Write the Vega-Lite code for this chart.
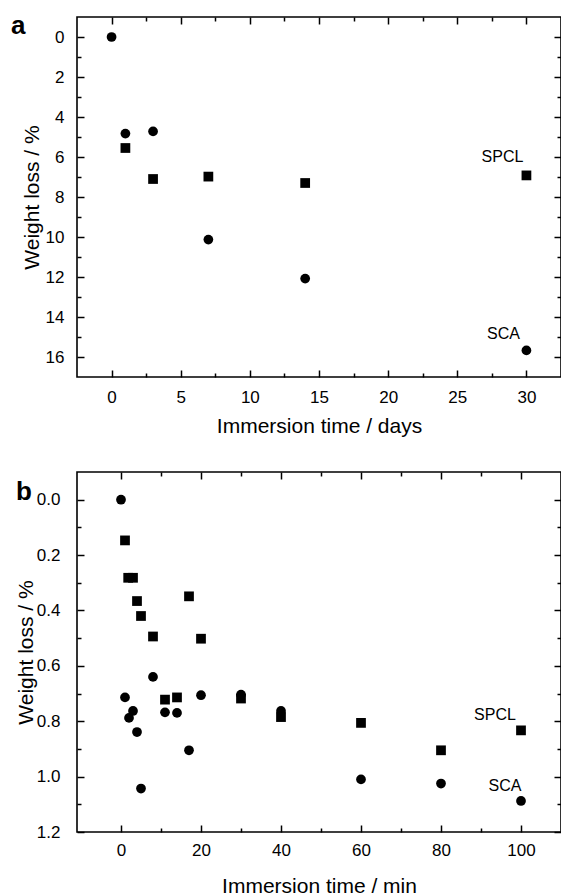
{
  "$schema": "https://vega.github.io/schema/vega-lite/v6.json",
  "background": "white",
  "padding": {"left": 10, "top": 12, "right": 0, "bottom": 0},
  "config": {
    "font": "Liberation Sans",
    "view": {"stroke": "black", "strokeWidth": 1.6},
    "axis": {
      "domain": false, "grid": false, "zindex": 1,
      "labelFont": "Liberation Sans", "labelFontSize": 17, "labelColor": "black",
      "titleFont": "Liberation Sans", "titleFontSize": 21, "titleFontWeight": "normal", "titleColor": "black"
    },
    "title": {"font": "Liberation Sans", "color": "black"}
  },
  "datasets": {
    "a": [
      {"s": "SPCL", "t": 1, "w": 5.55},
      {"s": "SPCL", "t": 3, "w": 7.1},
      {"s": "SPCL", "t": 7, "w": 6.98},
      {"s": "SPCL", "t": 14, "w": 7.3},
      {"s": "SPCL", "t": 30, "w": 6.92},
      {"s": "SCA", "t": 0, "w": 0},
      {"s": "SCA", "t": 1, "w": 4.83},
      {"s": "SCA", "t": 3, "w": 4.72},
      {"s": "SCA", "t": 7, "w": 10.13},
      {"s": "SCA", "t": 14, "w": 12.08},
      {"s": "SCA", "t": 30, "w": 15.67}
    ],
    "b": [
      {"s": "SPCL", "t": 1, "w": 0.147},
      {"s": "SPCL", "t": 1.8, "w": 0.282},
      {"s": "SPCL", "t": 3, "w": 0.282},
      {"s": "SPCL", "t": 4, "w": 0.366},
      {"s": "SPCL", "t": 5, "w": 0.42},
      {"s": "SPCL", "t": 8, "w": 0.494},
      {"s": "SPCL", "t": 11, "w": 0.722},
      {"s": "SPCL", "t": 14, "w": 0.714},
      {"s": "SPCL", "t": 17, "w": 0.349},
      {"s": "SPCL", "t": 20, "w": 0.502},
      {"s": "SPCL", "t": 30, "w": 0.718},
      {"s": "SPCL", "t": 40, "w": 0.785},
      {"s": "SPCL", "t": 60, "w": 0.806},
      {"s": "SPCL", "t": 80, "w": 0.905},
      {"s": "SPCL", "t": 100, "w": 0.833},
      {"s": "SCA", "t": 0, "w": 0},
      {"s": "SCA", "t": 1, "w": 0.714},
      {"s": "SCA", "t": 2, "w": 0.788},
      {"s": "SCA", "t": 3, "w": 0.763},
      {"s": "SCA", "t": 4, "w": 0.839},
      {"s": "SCA", "t": 5, "w": 1.043},
      {"s": "SCA", "t": 8, "w": 0.64},
      {"s": "SCA", "t": 11, "w": 0.768},
      {"s": "SCA", "t": 14, "w": 0.77},
      {"s": "SCA", "t": 17, "w": 0.905},
      {"s": "SCA", "t": 20, "w": 0.706},
      {"s": "SCA", "t": 30, "w": 0.704},
      {"s": "SCA", "t": 40, "w": 0.763},
      {"s": "SCA", "t": 60, "w": 1.01},
      {"s": "SCA", "t": 80, "w": 1.025},
      {"s": "SCA", "t": 100, "w": 1.088}
    ]
  },
  "columns": 1,
  "spacing": 33,
  "concat": [
    {
      "width": 484,
      "height": 360,
      "title": {"text": "a", "fontSize": 26, "fontWeight": "bold", "anchor": "start", "frame": "group", "dx": -66, "dy": 23, "offset": 0},
      "data": {"name": "a"},
      "layer": [
        {
          "mark": {"type": "point", "filled": true, "opacity": 1, "color": "black", "size": 95},
          "encoding": {
            "x": {"field": "t", "type": "quantitative",
              "scale": {"domain": [-2.5, 32.5], "nice": false, "zero": false},
              "axis": {"orient": "bottom", "title": "Immersion time / days",
                "values": [0, 5, 10, 15, 20, 25, 30],
                "ticks": true, "tickColor": "black", "tickWidth": 1.5, "tickSize": 7, "offset": -7,
                "labelPadding": 12, "titlePadding": 10}},
            "y": {"field": "w", "type": "quantitative",
              "scale": {"domain": [-1, 17], "nice": false, "zero": false, "reverse": true},
              "axis": {"orient": "left", "title": "Weight loss / %",
                "values": [0, 2, 4, 6, 8, 10, 12, 14, 16],
                "ticks": true, "tickColor": "black", "tickWidth": 1.5, "tickSize": 7, "offset": -7,
                "labelPadding": 13, "titlePadding": 3}},
            "shape": {"field": "s", "type": "nominal", "scale": {"domain": ["SCA", "SPCL"], "range": ["circle", "square"]}, "legend": null}
          }
        },
        {
          "mark": {"type": "point", "opacity": 0},
          "encoding": {
            "x": {"field": "t", "type": "quantitative",
              "axis": {"orient": "top", "title": null, "labels": false, "values": [0, 5, 10, 15, 20, 25, 30],
                "ticks": true, "tickColor": "black", "tickWidth": 1.5, "tickSize": 7, "offset": -7}},
            "y": {"field": "w", "type": "quantitative",
              "axis": {"orient": "right", "title": null, "labels": false, "values": [0, 2, 4, 6, 8, 10, 12, 14, 16],
                "ticks": true, "tickColor": "black", "tickWidth": 1.5, "tickSize": 7, "offset": -7}}
          }
        },
        {
          "mark": {"type": "point", "opacity": 0},
          "encoding": {
            "x": {"field": "t", "type": "quantitative",
              "axis": {"orient": "bottom", "title": null, "labels": false, "values": [2.5, 7.5, 12.5, 17.5, 22.5, 27.5],
                "ticks": true, "tickColor": "black", "tickWidth": 1.5, "tickSize": 4, "offset": -4}},
            "y": {"field": "w", "type": "quantitative",
              "axis": {"orient": "left", "title": null, "labels": false, "values": [1, 3, 5, 7, 9, 11, 13, 15],
                "ticks": true, "tickColor": "black", "tickWidth": 1.5, "tickSize": 4, "offset": -4}}
          }
        },
        {
          "mark": {"type": "point", "opacity": 0},
          "encoding": {
            "x": {"field": "t", "type": "quantitative",
              "axis": {"orient": "top", "title": null, "labels": false, "values": [2.5, 7.5, 12.5, 17.5, 22.5, 27.5],
                "ticks": true, "tickColor": "black", "tickWidth": 1.5, "tickSize": 4, "offset": -4}},
            "y": {"field": "w", "type": "quantitative",
              "axis": {"orient": "right", "title": null, "labels": false, "values": [1, 3, 5, 7, 9, 11, 13, 15],
                "ticks": true, "tickColor": "black", "tickWidth": 1.5, "tickSize": 4, "offset": -4}}
          }
        },
        {
          "transform": [{"filter": "datum.s == 'SPCL' && datum.t == 30"}],
          "mark": {"type": "text", "fontSize": 16, "dx": -24, "dy": -18, "color": "black"},
          "encoding": {
            "x": {"field": "t", "type": "quantitative", "axis": null},
            "y": {"field": "w", "type": "quantitative", "axis": null},
            "text": {"field": "s"}
          }
        },
        {
          "transform": [{"filter": "datum.s == 'SCA' && datum.t == 30"}],
          "mark": {"type": "text", "fontSize": 16, "dx": -23, "dy": -16, "color": "black"},
          "encoding": {
            "x": {"field": "t", "type": "quantitative", "axis": null},
            "y": {"field": "w", "type": "quantitative", "axis": null},
            "text": {"field": "s"}
          }
        }
      ],
      "resolve": {"axis": {"x": "independent", "y": "independent"}}
    },
    {
      "width": 484,
      "height": 360,
      "title": {"text": "b", "fontSize": 26, "fontWeight": "bold", "anchor": "start", "frame": "group", "dx": -61, "dy": 34, "offset": 0},
      "data": {"name": "b"},
      "layer": [
        {
          "mark": {"type": "point", "filled": true, "opacity": 1, "color": "black", "size": 95},
          "encoding": {
            "x": {"field": "t", "type": "quantitative",
              "scale": {"domain": [-11, 110], "nice": false, "zero": false},
              "axis": {"orient": "bottom", "title": "Immersion time / min",
                "values": [0, 20, 40, 60, 80, 100],
                "ticks": true, "tickColor": "black", "tickWidth": 1.5, "tickSize": 7, "offset": -7,
                "labelPadding": 10, "titlePadding": 17}},
            "y": {"field": "w", "type": "quantitative",
              "scale": {"domain": [-0.1, 1.2], "nice": false, "zero": false, "reverse": true},
              "axis": {"orient": "left", "title": "Weight loss / %", "format": ".1f",
                "values": [0, 0.2, 0.4, 0.6, 0.8, 1.0, 1.2],
                "ticks": true, "tickColor": "black", "tickWidth": 1.5, "tickSize": 7, "offset": -7,
                "labelPadding": 17, "titlePadding": 0}},
            "shape": {"field": "s", "type": "nominal", "scale": {"domain": ["SCA", "SPCL"], "range": ["circle", "square"]}, "legend": null}
          }
        },
        {
          "mark": {"type": "point", "opacity": 0},
          "encoding": {
            "x": {"field": "t", "type": "quantitative",
              "axis": {"orient": "top", "title": null, "labels": false, "values": [0, 20, 40, 60, 80, 100],
                "ticks": true, "tickColor": "black", "tickWidth": 1.5, "tickSize": 7, "offset": -7}},
            "y": {"field": "w", "type": "quantitative",
              "axis": {"orient": "right", "title": null, "labels": false, "values": [0, 0.2, 0.4, 0.6, 0.8, 1.0, 1.2],
                "ticks": true, "tickColor": "black", "tickWidth": 1.5, "tickSize": 7, "offset": -7}}
          }
        },
        {
          "mark": {"type": "point", "opacity": 0},
          "encoding": {
            "x": {"field": "t", "type": "quantitative",
              "axis": {"orient": "bottom", "title": null, "labels": false, "values": [10, 30, 50, 70, 90],
                "ticks": true, "tickColor": "black", "tickWidth": 1.5, "tickSize": 4, "offset": -4}},
            "y": {"field": "w", "type": "quantitative",
              "axis": {"orient": "left", "title": null, "labels": false, "values": [0.1, 0.3, 0.5, 0.7, 0.9, 1.1],
                "ticks": true, "tickColor": "black", "tickWidth": 1.5, "tickSize": 4, "offset": -4}}
          }
        },
        {
          "mark": {"type": "point", "opacity": 0},
          "encoding": {
            "x": {"field": "t", "type": "quantitative",
              "axis": {"orient": "top", "title": null, "labels": false, "values": [10, 30, 50, 70, 90],
                "ticks": true, "tickColor": "black", "tickWidth": 1.5, "tickSize": 4, "offset": -4}},
            "y": {"field": "w", "type": "quantitative",
              "axis": {"orient": "right", "title": null, "labels": false, "values": [0.1, 0.3, 0.5, 0.7, 0.9, 1.1],
                "ticks": true, "tickColor": "black", "tickWidth": 1.5, "tickSize": 4, "offset": -4}}
          }
        },
        {
          "transform": [{"filter": "datum.s == 'SPCL' && datum.t == 100"}],
          "mark": {"type": "text", "fontSize": 16, "dx": -26, "dy": -15, "color": "black"},
          "encoding": {
            "x": {"field": "t", "type": "quantitative", "axis": null},
            "y": {"field": "w", "type": "quantitative", "axis": null},
            "text": {"field": "s"}
          }
        },
        {
          "transform": [{"filter": "datum.s == 'SCA' && datum.t == 100"}],
          "mark": {"type": "text", "fontSize": 16, "dx": -16, "dy": -15, "color": "black"},
          "encoding": {
            "x": {"field": "t", "type": "quantitative", "axis": null},
            "y": {"field": "w", "type": "quantitative", "axis": null},
            "text": {"field": "s"}
          }
        }
      ],
      "resolve": {"axis": {"x": "independent", "y": "independent"}}
    }
  ]
}
